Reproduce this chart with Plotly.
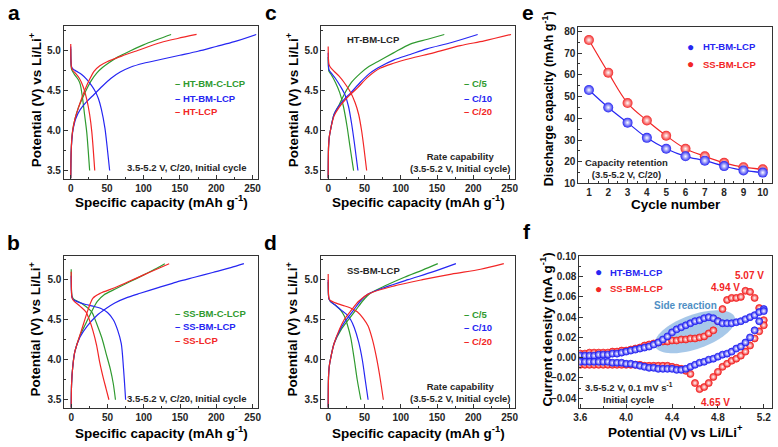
import math
import plotly.graph_objects as go

W, H = 778, 447
FONT = "Liberation Sans"
GREEN = "#2f9a2f"
BLUE = "#2626f2"
RED = "#f22626"
DARK = "#262626"

# ---------------- Panel a: HT samples (C/20, initial cycle) ----------------
a_names = ["HT-BM-C-LCP", "HT-BM-LCP", "HT-LCP"]
a_g_chg_cap = [0, 0.5, 1.5, 3, 6, 10, 15, 21, 28, 36, 44, 53, 65, 83, 100, 120, 138]
a_g_chg_v = [3.40, 3.70, 3.90, 4.02, 4.15, 4.27, 4.38, 4.50, 4.62, 4.72, 4.79, 4.85, 4.92, 5.00, 5.07, 5.14, 5.20]
a_b_chg_cap = [0, 0.5, 1.5, 3, 7, 13, 22, 32, 43, 55, 68, 82, 100, 125, 150, 175, 200, 225, 255]
a_b_chg_v = [3.40, 3.70, 3.88, 4.00, 4.15, 4.26, 4.36, 4.45, 4.55, 4.65, 4.73, 4.79, 4.84, 4.89, 4.94, 4.99, 5.05, 5.11, 5.20]
a_r_chg_cap = [0, 0.5, 1.5, 3, 6, 10, 15, 20, 26, 32, 40, 50, 70, 92, 124, 147, 173]
a_r_chg_v = [3.40, 3.70, 3.90, 4.02, 4.15, 4.27, 4.40, 4.52, 4.64, 4.74, 4.81, 4.86, 4.93, 5.00, 5.10, 5.15, 5.20]
a_g_dis_cap = [0, 0.3, 1, 3, 6, 10, 13, 16, 19, 22, 26]
a_g_dis_v = [5.02, 4.85, 4.77, 4.73, 4.69, 4.64, 4.58, 4.42, 4.20, 3.98, 3.50]
a_b_dis_cap = [0, 0.3, 1, 3, 8, 15, 22, 28, 33, 38, 42, 47, 50, 53.5]
a_b_dis_v = [5.05, 4.88, 4.80, 4.77, 4.74, 4.70, 4.64, 4.57, 4.50, 4.40, 4.27, 4.03, 3.80, 3.50]
a_r_dis_cap = [0, 0.3, 1, 3, 7, 12, 17, 22, 26, 29, 33]
a_r_dis_v = [5.08, 4.88, 4.79, 4.75, 4.71, 4.65, 4.55, 4.39, 4.20, 3.98, 3.50]

# ---------------- Panel b: SS samples (C/20, initial cycle) ----------------
b_names = ["SS-BM-C-LCP", "SS-BM-LCP", "SS-LCP"]
b_g_chg_cap = [0, 0.5, 2, 5, 12, 20, 28, 36, 45, 60, 80, 100, 115, 129]
b_g_chg_v = [3.40, 3.70, 3.90, 4.10, 4.30, 4.45, 4.60, 4.73, 4.81, 4.88, 4.97, 5.06, 5.13, 5.20]
b_b_chg_cap = [0, 0.5, 2, 5, 12, 22, 35, 48, 60, 75, 95, 120, 145, 170, 195, 220, 238]
b_b_chg_v = [3.40, 3.70, 3.90, 4.10, 4.28, 4.42, 4.55, 4.64, 4.71, 4.77, 4.83, 4.90, 4.97, 5.03, 5.09, 5.15, 5.20]
b_r_chg_cap = [0, 0.5, 2, 5, 10, 17, 23, 30, 40, 60, 80, 100, 120, 135]
b_r_chg_v = [3.40, 3.70, 3.90, 4.10, 4.25, 4.45, 4.62, 4.77, 4.83, 4.90, 4.98, 5.06, 5.14, 5.20]
b_g_dis_cap = [0, 0.3, 1, 3, 15, 28, 33, 38, 43, 48, 54, 58, 61]
b_g_dis_v = [5.13, 4.90, 4.80, 4.76, 4.70, 4.60, 4.50, 4.38, 4.25, 4.08, 3.88, 3.70, 3.50]
b_b_dis_cap = [0, 0.3, 1, 3, 10, 20, 30, 41, 50, 58, 64, 69, 72, 75]
b_b_dis_v = [5.05, 4.85, 4.78, 4.75, 4.72, 4.69, 4.67, 4.64, 4.59, 4.50, 4.37, 4.20, 3.90, 3.50]
b_r_dis_cap = [0, 0.3, 1, 3, 12, 20, 25, 30, 35, 39, 44, 48, 52]
b_r_dis_v = [5.10, 4.88, 4.78, 4.74, 4.67, 4.60, 4.50, 4.36, 4.18, 3.98, 3.78, 3.64, 3.50]

# ---------------- Panel c: HT-BM-LCP rate capability ----------------
c_names = ["C/5", "C/10", "C/20"]
c_g_chg_cap = [0, 0.5, 1.5, 3, 8, 15, 22, 32, 45, 56, 68, 90, 113, 137, 160]
c_g_chg_v = [3.40, 3.80, 3.92, 4.00, 4.20, 4.32, 4.45, 4.60, 4.72, 4.80, 4.86, 4.97, 5.08, 5.14, 5.20]
c_b_chg_cap = [0, 0.5, 1.5, 3, 8, 15, 22, 31, 44, 58, 72, 90, 113, 136, 170, 206]
c_b_chg_v = [3.40, 3.80, 3.92, 4.00, 4.20, 4.31, 4.39, 4.47, 4.60, 4.72, 4.80, 4.88, 4.95, 5.02, 5.10, 5.20]
c_r_chg_cap = [0, 0.5, 1.5, 3, 8, 15, 25, 40, 55, 72, 90, 113, 145, 182, 215, 252]
c_r_chg_v = [3.40, 3.80, 3.92, 4.00, 4.18, 4.29, 4.40, 4.53, 4.67, 4.78, 4.84, 4.90, 4.97, 5.06, 5.12, 5.20]
c_g_dis_cap = [0, 0.3, 1, 4, 10, 16, 21, 26, 30, 35]
c_g_dis_v = [4.92, 4.80, 4.74, 4.70, 4.60, 4.47, 4.30, 4.05, 3.80, 3.50]
c_b_dis_cap = [0, 0.3, 1, 4, 10, 17, 23, 28, 32, 36, 41]
c_b_dis_v = [4.97, 4.82, 4.76, 4.72, 4.65, 4.55, 4.45, 4.30, 4.10, 3.85, 3.50]
c_r_dis_cap = [0, 0.3, 1, 3, 8, 15, 22, 30, 37, 42, 46, 49, 53]
c_r_dis_v = [5.05, 4.90, 4.83, 4.79, 4.74, 4.68, 4.60, 4.49, 4.35, 4.20, 4.00, 3.80, 3.50]

# ---------------- Panel d: SS-BM-LCP rate capability ----------------
d_names = ["C/5", "C/10", "C/20"]
d_g_chg_cap = [0, 0.5, 1.5, 3, 8, 18, 28, 38, 48, 58, 80, 105, 130, 151]
d_g_chg_v = [3.40, 3.80, 3.92, 4.00, 4.20, 4.38, 4.50, 4.62, 4.74, 4.83, 4.93, 5.03, 5.12, 5.20]
d_b_chg_cap = [0, 0.5, 1.5, 3, 8, 16, 25, 35, 45, 55, 80, 110, 145, 176]
d_b_chg_v = [3.40, 3.80, 3.92, 4.00, 4.20, 4.37, 4.50, 4.62, 4.74, 4.82, 4.91, 5.00, 5.10, 5.20]
d_r_chg_cap = [0, 0.5, 1.5, 3, 8, 15, 22, 32, 42, 55, 90, 130, 170, 210, 242]
d_r_chg_v = [3.40, 3.80, 3.92, 4.00, 4.20, 4.37, 4.50, 4.62, 4.73, 4.82, 4.92, 5.00, 5.07, 5.13, 5.20]
d_g_dis_cap = [0, 0.3, 1, 3, 10, 17, 22, 26, 31, 36, 40, 45]
d_g_dis_v = [4.97, 4.82, 4.76, 4.73, 4.68, 4.62, 4.55, 4.45, 4.28, 4.00, 3.75, 3.50]
d_b_dis_cap = [0, 0.3, 1, 3, 10, 18, 25, 31, 36, 42, 47, 51, 55]
d_b_dis_v = [5.00, 4.82, 4.76, 4.73, 4.68, 4.62, 4.57, 4.50, 4.40, 4.22, 4.00, 3.75, 3.50]
d_r_dis_cap = [0, 0.3, 1, 3, 10, 20, 30, 40, 48, 55, 61, 66, 71, 76]
d_r_dis_v = [5.07, 4.85, 4.77, 4.74, 4.71, 4.68, 4.65, 4.60, 4.52, 4.42, 4.25, 4.05, 3.80, 3.50]

# ---------------- Panel e: capacity retention ----------------
e_cycles = [1, 2, 3, 4, 5, 6, 7, 8, 9, 10]
e_ht = [53, 45, 38, 31, 26, 22.5, 20.5, 18, 16, 15]
e_ss = [76, 61, 47, 39, 32, 26, 22.5, 19.5, 17.5, 16.5]

# ---------------- Panel f: cyclic voltammetry ----------------
f_v = [3.60, 3.64, 3.68, 3.72, 3.76, 3.80, 3.84, 3.88, 3.92, 3.96,
       4.00, 4.04, 4.08, 4.12, 4.16, 4.20, 4.24, 4.28, 4.32, 4.36,
       4.40, 4.44, 4.48, 4.52, 4.56, 4.60, 4.64, 4.68, 4.72, 4.76,
       4.80, 4.84, 4.88, 4.92, 4.96, 5.00, 5.04, 5.08, 5.12, 5.16, 5.20]
f_ht_anodic = [0.002, 0.002, 0.002, 0.002, 0.003, 0.003, 0.003, 0.004, 0.004, 0.005,
               0.006, 0.007, 0.008, 0.009, 0.010, 0.011, 0.013, 0.015, 0.018, 0.021,
               0.025, 0.028, 0.030, 0.032, 0.034, 0.036, 0.037, 0.039, 0.040, 0.039,
               0.036, 0.034, 0.034, 0.034, 0.035, 0.036, 0.038, 0.040, 0.042, 0.045, 0.048]
f_ht_cathodic = [-0.004, -0.004, -0.004, -0.004, -0.004, -0.004, -0.004, -0.005, -0.005, -0.005,
                 -0.006, -0.006, -0.007, -0.008, -0.009, -0.010, -0.010, -0.011, -0.011, -0.011,
                 -0.011, -0.012, -0.012, -0.011, -0.009, -0.007, -0.005, -0.004, -0.002, -0.001,
                 0.001, 0.003, 0.004, 0.006, 0.009, 0.011, 0.015, 0.020, 0.027, 0.036, 0.046]
f_ss_anodic = [0.004, 0.004, 0.005, 0.005, 0.005, 0.005, 0.005, 0.006, 0.006, 0.007,
               0.007, 0.008, 0.009, 0.010, 0.012, 0.013, 0.014, 0.015, 0.016, 0.016,
               0.017, 0.017, 0.018, 0.018, 0.019, 0.019, 0.020, 0.021, 0.024, 0.027,
               0.036, 0.048, 0.057, 0.059, 0.059, 0.060, 0.066, 0.065, 0.059, 0.049, 0.037]
f_ss_cathodic = [-0.007, -0.007, -0.007, -0.007, -0.007, -0.007, -0.007, -0.007, -0.007, -0.007,
                 -0.007, -0.007, -0.007, -0.007, -0.008, -0.008, -0.008, -0.008, -0.008, -0.008,
                 -0.009, -0.010, -0.011, -0.013, -0.016, -0.025, -0.031, -0.029, -0.025, -0.019,
                 -0.014, -0.009, -0.006, -0.003, -0.001, 0.002, 0.006, 0.012, 0.019, 0.026, 0.032]

# ---------------- layout helpers ----------------
def px_x(x):
    return x / W


def px_y(y):
    return 1 - y / H


panels = [
    # name, left, right, top, bottom, xrange, yrange
    ("a", 58.5, 255, 22, 178, [-9.5, 257.5], [3.399, 5.30]),
    ("b", 59, 255, 257, 413, [-9.5, 257.5], [3.399, 5.30]),
    ("c", 319, 515, 22, 178, [-9.5, 257.5], [3.399, 5.30]),
    ("d", 319, 515, 257, 413, [-9.5, 257.5], [3.399, 5.30]),
    ("e", 579, 775, 23, 183, [0.45, 10.48], [10, 81.8]),
    ("f", 580, 775, 257, 413, [3.591, 5.272], [-0.0495, 0.1007]),
]

fig = go.Figure()
layout = dict(width=W, height=H, margin=dict(l=0, r=0, t=0, b=0),
              paper_bgcolor="white", plot_bgcolor="white", showlegend=False)

tick_specs = {
    "a": dict(x=(0, 50, 25, None), y=(3.5, 0.5, 0.25, ".1f")),
    "b": dict(x=(0, 50, 25, None), y=(3.5, 0.5, 0.25, ".1f")),
    "c": dict(x=(0, 50, 25, None), y=(3.5, 0.5, 0.25, ".1f")),
    "d": dict(x=(0, 50, 25, None), y=(3.5, 0.5, 0.25, ".1f")),
    "e": dict(x=(1, 1, 0.5, None), y=(10, 10, 5, None)),
    "f": dict(x=(3.6, 0.4, 0.2, ".1f"), y=(0, 0.02, 0.01, ".2f")),
}


def axis(domain, rng, spec, anchor):
    t0, dt, mdt, fmt = spec
    d = dict(domain=domain, range=rng, anchor=anchor, showline=True, mirror=True,
             linecolor="#333", linewidth=1, ticks="inside", ticklen=4, tickwidth=1,
             tickcolor="#333", tick0=t0, dtick=dt, showgrid=False, zeroline=False,
             fixedrange=True,
             minor=dict(ticks="inside", ticklen=2, tick0=t0, dtick=mdt, tickcolor="#333"),
             tickfont=dict(family=FONT, size=10, color=DARK, weight="bold"))
    if fmt:
        d["tickformat"] = fmt
    return d


axis_ids = {}
for i, (name, l, r, t, b, xr, yr) in enumerate(panels):
    k = "" if i == 0 else str(i + 1)
    axis_ids[name] = ("x" + k, "y" + k)
    layout["xaxis" + k] = axis([l / W, r / W], xr, tick_specs[name]["x"], "y" + k)
    layout["yaxis" + k] = axis([1 - b / H, 1 - t / H], yr, tick_specs[name]["y"], "x" + k)


def curve(panel, xs, ys, color, name):
    xa, ya = axis_ids[panel]
    fig.add_trace(go.Scatter(x=xs, y=ys, mode="lines", name=name, xaxis=xa, yaxis=ya,
                             line=dict(color=color, width=1.2, shape="spline", smoothing=0.8)))


curve("a", a_g_chg_cap, a_g_chg_v, GREEN, a_names[0])
curve("a", a_g_dis_cap, a_g_dis_v, GREEN, a_names[0])
curve("a", a_b_chg_cap, a_b_chg_v, BLUE, a_names[1])
curve("a", a_b_dis_cap, a_b_dis_v, BLUE, a_names[1])
curve("a", a_r_chg_cap, a_r_chg_v, RED, a_names[2])
curve("a", a_r_dis_cap, a_r_dis_v, RED, a_names[2])

curve("b", b_g_chg_cap, b_g_chg_v, GREEN, b_names[0])
curve("b", b_g_dis_cap, b_g_dis_v, GREEN, b_names[0])
curve("b", b_b_chg_cap, b_b_chg_v, BLUE, b_names[1])
curve("b", b_b_dis_cap, b_b_dis_v, BLUE, b_names[1])
curve("b", b_r_chg_cap, b_r_chg_v, RED, b_names[2])
curve("b", b_r_dis_cap, b_r_dis_v, RED, b_names[2])

curve("c", c_g_chg_cap, c_g_chg_v, GREEN, c_names[0])
curve("c", c_g_dis_cap, c_g_dis_v, GREEN, c_names[0])
curve("c", c_b_chg_cap, c_b_chg_v, BLUE, c_names[1])
curve("c", c_b_dis_cap, c_b_dis_v, BLUE, c_names[1])
curve("c", c_r_chg_cap, c_r_chg_v, RED, c_names[2])
curve("c", c_r_dis_cap, c_r_dis_v, RED, c_names[2])

curve("d", d_g_chg_cap, d_g_chg_v, GREEN, d_names[0])
curve("d", d_g_dis_cap, d_g_dis_v, GREEN, d_names[0])
curve("d", d_b_chg_cap, d_b_chg_v, BLUE, d_names[1])
curve("d", d_b_dis_cap, d_b_dis_v, BLUE, d_names[1])
curve("d", d_r_chg_cap, d_r_chg_v, RED, d_names[2])
curve("d", d_r_dis_cap, d_r_dis_v, RED, d_names[2])


def sphere(color):
    return dict(color=color, size=10, line=dict(width=0),
                gradient=dict(type="radial", color="#ffffff"))


xa, ya = axis_ids["e"]
fig.add_trace(go.Scatter(x=e_cycles, y=e_ss, mode="lines+markers", name="SS-BM-LCP",
                         xaxis=xa, yaxis=ya, line=dict(color=RED, width=1.2, shape="spline"),
                         marker=sphere(RED)))
fig.add_trace(go.Scatter(x=e_cycles, y=e_ht, mode="lines+markers", name="HT-BM-LCP",
                         xaxis=xa, yaxis=ya, line=dict(color=BLUE, width=1.2, shape="spline"),
                         marker=sphere(BLUE)))

xa, ya = axis_ids["f"]


def cv_marker(color):
    return dict(color=color, size=7, line=dict(width=0.8, color=color),
                gradient=dict(type="radial", color="#ffffff"))


for ys in (f_ss_anodic, f_ss_cathodic):
    fig.add_trace(go.Scatter(x=f_v, y=ys, mode="markers", name="SS-BM-LCP",
                             xaxis=xa, yaxis=ya, marker=cv_marker(RED)))
for ys in (f_ht_anodic, f_ht_cathodic):
    fig.add_trace(go.Scatter(x=f_v, y=ys, mode="markers", name="HT-BM-LCP",
                             xaxis=xa, yaxis=ya, marker=cv_marker(BLUE)))

# side-reaction ellipse (rotated, defined in pixel space then mapped to data)
_, fl, fr, ft, fb, fxr, fyr = panels[5]


def to_data(px, py):
    v = fxr[0] + (px - fl) / (fr - fl) * (fxr[1] - fxr[0])
    i = fyr[1] - (py - ft) / (fb - ft) * (fyr[1] - fyr[0])
    return v, i


cx, cy, ra, rb, th = 697, 335, 43, 17.5, math.radians(20)
pts = []
for k in range(73):
    t = 2 * math.pi * k / 72
    ex = ra * math.cos(t)
    ey = rb * math.sin(t)
    pxp = cx + ex * math.cos(th) + ey * math.sin(th)
    pyp = cy - ex * math.sin(th) + ey * math.cos(th)
    pts.append(to_data(pxp, pyp))
path = "M " + " L ".join(f"{v:.5f},{i:.6f}" for v, i in pts) + " Z"
layout["shapes"] = [dict(type="path", path=path, xref="x6", yref="y6", layer="below",
                         fillcolor="rgba(95,155,215,0.55)", line=dict(width=0))]

# ---------------- annotations ----------------
anns = []


def ann(text, x, y, size=9.5, color=DARK, xanchor="center", yanchor="middle", angle=0):
    anns.append(dict(text=text, x=px_x(x), y=px_y(y), xref="paper", yref="paper",
                     showarrow=False, xanchor=xanchor, yanchor=yanchor, textangle=angle,
                     font=dict(family=FONT, size=size, color=color)))


# panel letters
for letter, x, y in [("a", 8, 8), ("c", 268, 8), ("e", 528, 8),
                     ("b", 8, 243), ("d", 268, 243), ("f", 527, 232)]:
    ann(f"<b>{letter}</b>", x, y, size=21, color="black")

cap_title = "<b>Specific capacity (mAh g<sup>-1</sup>)</b>"
pot_title = "<b>Potential (V) vs Li/Li<sup>+</sup></b>"
for x, y in [(157, 201), (417, 201), (157, 438), (417, 438)]:
    ann(cap_title, x, y, size=13.5, color="black")
for x, y in [(29, 97), (289, 97), (29, 332), (289, 332)]:
    ann(pot_title, x, y, size=13.5, color="black", angle=-90)
ann("<b>Cycle number</b>", 678, 205, size=13.5, color="black")
ann("<b>Discharge capacity (mAh g<sup>-1</sup>)</b>", 548, 96, size=12.7, color="black", angle=-90)
ann(pot_title, 677, 437, size=13.5, color="black")
ann("<b>Current density (mA g<sup>-1</sup>)</b>", 546, 333, size=13.5, color="black", angle=-90)

# legends as colored text
for names, x0, ys in [(a_names, 169, (80.5, 96, 109.5)), (b_names, 169, (316.5, 330, 344)),
                      (c_names, 461, (80, 95.5, 109.5)), (d_names, 461, (317, 331, 345.5))]:
    for nm, y, col in zip(names, ys, (GREEN, BLUE, RED)):
        ann(f"<b>– {nm}</b>", x0, y, size=9.5, color=col, xanchor="left")

for nm, y, col in [("HT-BM-LCP", 43, BLUE), ("SS-BM-LCP", 61, RED)]:
    ann("●", 693, y, size=12, color=col)
    ann(f"<b>{nm}</b>", 703, y, size=9.5, color=col, xanchor="left")
for nm, y, col in [("HT-BM-LCP", 274, BLUE), ("SS-BM-LCP", 291, RED)]:
    ann("●", 599, y, size=12, color=col)
    ann(f"<b>{nm}</b>", 609, y, size=9.5, color=col, xanchor="left")

# in-panel notes
ann("<b>3.5-5.2 V, C/20, Initial cycle</b>", 246, 167, size=9.5, xanchor="right")
ann("<b>3.5-5.2 V, C/20, Initial cycle</b>", 246, 403, size=9.5, xanchor="right")
ann("<b>HT-BM-LCP</b>", 343, 35, size=9.5, xanchor="left")
ann("<b>SS-BM-LCP</b>", 343, 272, size=9.5, xanchor="left")
ann("<b>Rate capability<br>(3.5-5.2 V, Initial cycle)</b>", 460, 161, size=9.5)
ann("<b>Rate capability<br>(3.5-5.2 V, Initial cycle)</b>", 460, 397.5, size=9.5)
ann("<b>Capacity retention<br>(3.5-5.2 V, C/20)</b>", 628, 168, size=9.5)
ann("<b>3.5-5.2 V, 0.1 mV s<sup>-1</sup><br>Initial cycle</b>", 630, 398, size=9.5)
ann("<b>5.07 V</b>", 752.5, 277, size=10, color=RED)
ann("<b>4.94 V</b>", 727.5, 290, size=10, color=RED)
ann("<b>4.65 V</b>", 717.5, 408, size=10, color=RED)
ann("<b>Side reaction</b>", 687, 308, size=10, color="#4f8fc4")

layout["annotations"] = anns
fig.update_layout(**layout)
fig.write_html("out.html", config={"displayModeBar": False, "staticPlot": True},
               post_script="document.body.style.margin='0';document.body.style.overflow='hidden';")
